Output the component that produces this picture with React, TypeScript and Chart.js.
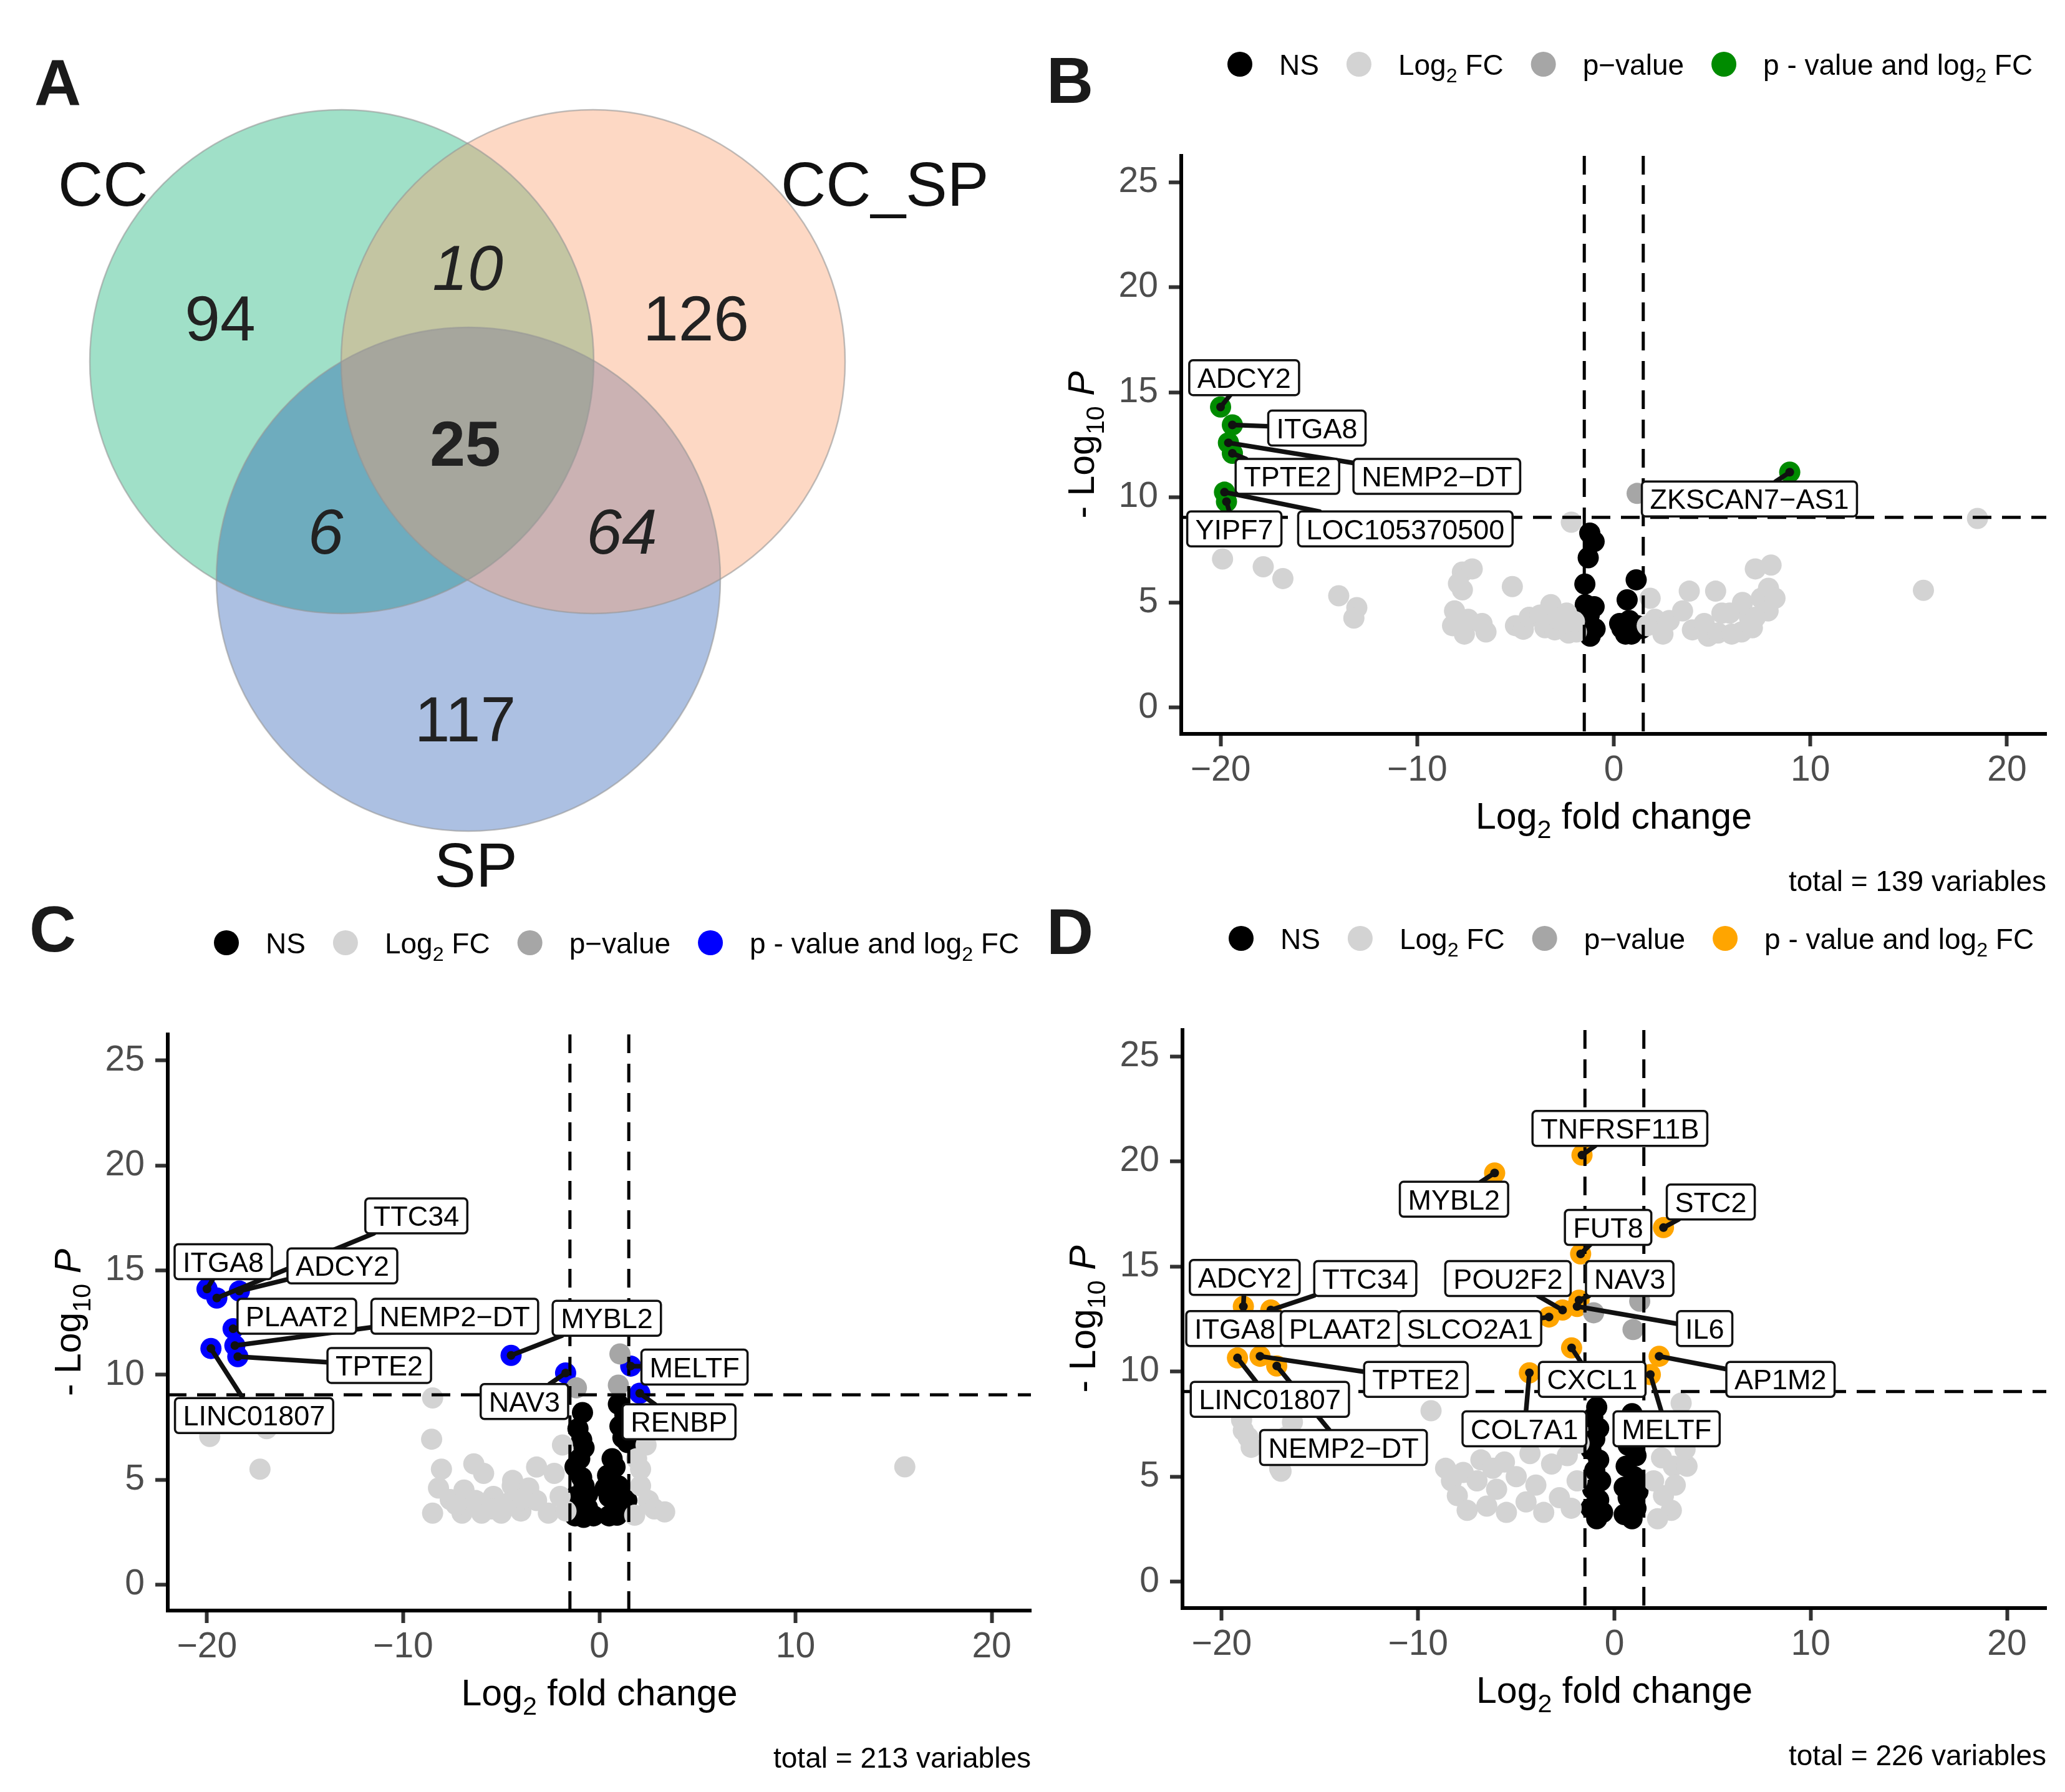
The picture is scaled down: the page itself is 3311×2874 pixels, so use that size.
import React, { useEffect, useRef } from "react";
import { Chart, registerables } from "chart.js";

Chart.register(...registerables);

const FAMILY = '"Liberation Sans", Arial, Helvetica, sans-serif';

type Pt = [number, number];
type Sig = { gene: string; x: number; y: number };
type Part = { t: string; sub?: boolean; italic?: boolean; bold?: boolean };

// ---------------- Panel A : Venn data ----------------
const VENN_SETS = ["CC", "CC_SP", "SP"];
// regions: CC only, CC&CC_SP, CC_SP only, CC&SP, all three, CC_SP&SP, SP only
const VENN_COUNTS = [94, 10, 126, 6, 25, 64, 117];

// ---------------- Volcano shared ----------------
const X_TICKS = [-20, -10, 0, 10, 20];
const Y_TICKS = [0, 5, 10, 15, 20, 25];
const FC_CUTOFF = 1.5;
const P_CUTOFF = 9.05;
const TOTALS = [139, 213, 226];

// ---------------- Panel B ----------------
const B_NS: Pt[] = [
  [-1.22, 8.3], [-1.0, 7.9], [-1.3, 7.13], [-1.47, 5.88], [-1.45, 4.9], [-1.0, 4.8],
  [-1.25, 4.4], [-1.47, 3.8], [-0.95, 3.75], [-1.2, 3.4],
  [1.14, 6.08], [0.68, 5.13], [0.79, 4.14], [0.41, 3.77], [1.42, 3.77], [0.9, 3.5],
  [0.3, 4.0], [1.2, 3.9], [0.6, 3.5],
];
const B_FC: Pt[] = [
  [-19.9, 7.07], [-17.83, 6.7], [-16.83, 6.14], [-13.99, 5.32], [-13.07, 4.76], [-13.22, 4.26],
  [-7.7, 6.45], [-7.2, 6.6], [-7.7, 5.6], [-7.9, 5.9], [-5.16, 5.76], [-8.1, 4.6], [-8.2, 3.9],
  [-7.6, 3.5], [-7.4, 4.2], [-6.7, 4.0], [-6.5, 3.6], [-5.0, 3.9], [-4.6, 3.73], [-4.3, 4.3],
  [-3.75, 4.4], [-3.2, 4.9], [-3.5, 3.8], [-3.0, 3.7], [-2.8, 4.2], [-2.4, 4.5], [-2.3, 3.55],
  [-1.9, 3.6], [-2.0, 4.1], [-2.16, 8.82],
  [1.85, 5.2], [2.1, 4.2], [1.7, 3.9], [2.82, 4.14], [2.5, 3.5], [3.84, 5.54], [3.5, 4.6],
  [4.0, 3.7], [4.6, 4.0], [4.8, 3.4], [5.18, 5.54], [5.3, 3.55], [5.5, 4.5], [5.9, 4.5],
  [6.0, 3.5], [6.5, 3.6], [6.55, 5.0], [6.9, 4.3], [7.2, 6.6], [8.0, 6.78], [7.5, 5.2],
  [7.87, 5.68], [7.85, 4.6], [7.2, 4.3], [7.05, 3.8], [8.2, 5.2], [15.75, 5.58], [18.5, 9.0],
];
const B_PV: Pt[] = [[1.19, 10.19]];
const B_SIG: Sig[] = [
  { gene: "ADCY2", x: -20.0, y: 14.3 },
  { gene: "ITGA8", x: -19.4, y: 13.45 },
  { gene: "NEMP2-DT", x: -19.6, y: 12.6 },
  { gene: "TPTE2", x: -19.4, y: 12.1 },
  { gene: "LOC105370500", x: -19.8, y: 10.25 },
  { gene: "YIPF7", x: -19.7, y: 9.8 },
  { gene: "ZKSCAN7-AS1", x: 8.95, y: 11.2 },
];
const B_LABEL_POS: Pt[] = [
  [-18.8, 15.7], [-15.1, 13.3], [-9.0, 11.0], [-16.6, 11.0], [-10.6, 8.5], [-19.3, 8.5], [6.9, 9.93],
];

// ---------------- Panel C ----------------
const C_NS: Pt[] = [
  [-0.86, 8.2], [-1.09, 7.43], [-0.9, 6.9], [-0.78, 6.52], [-1.0, 6.0], [-1.24, 5.61], [-0.9, 5.1],
  [-0.78, 4.7], [-1.24, 4.18], [-0.6, 4.3], [-0.61, 3.66], [-1.0, 3.8], [-1.24, 3.27], [-0.3, 3.27],
  [-0.8, 3.2],
  [0.97, 8.6], [1.3, 8.1], [1.05, 7.55], [1.2, 7.0], [1.44, 6.77], [0.65, 6.0], [0.8, 5.6],
  [0.42, 5.2], [0.97, 4.7], [0.3, 4.6], [0.5, 4.18], [1.13, 3.66], [1.4, 4.0], [0.5, 3.27], [0.9, 3.3],
];
const C_FC: Pt[] = [
  [-19.86, 7.06], [-16.96, 7.43], [-17.3, 5.5], [-8.5, 8.9], [-8.55, 6.93], [-8.05, 5.5],
  [-6.4, 5.75], [-5.9, 5.3], [-4.44, 4.7], [-4.42, 4.96], [-3.2, 5.6], [-8.5, 3.4], [-8.2, 4.6],
  [-7.6, 4.05], [-7.0, 3.4], [-6.9, 4.5], [-6.0, 3.4], [-5.4, 4.2], [-5.0, 3.4], [-4.6, 3.9],
  [-4.0, 3.5], [-3.6, 4.6], [-3.2, 4.0], [-2.6, 3.4], [-2.0, 4.2], [-2.3, 5.3], [-1.88, 6.65],
  [-1.7, 3.5], [-7.3, 3.8], [-6.3, 4.0], [-5.5, 3.6], [-3.9, 4.1],
  [2.38, 6.65], [2.1, 5.5], [2.1, 4.7], [2.5, 4.0], [1.8, 3.3], [2.8, 3.6], [3.33, 3.46],
  [1.9, 6.0], [15.57, 5.61],
];
const C_PV: Pt[] = [[1.05, 11.0], [0.97, 9.51], [-1.17, 9.38]];
const C_SIG: Sig[] = [
  { gene: "ITGA8", x: -20.0, y: 14.1 },
  { gene: "ADCY2", x: -18.35, y: 14.0 },
  { gene: "TTC34", x: -19.5, y: 13.67 },
  { gene: "PLAAT2", x: -18.67, y: 12.2 },
  { gene: "NEMP2-DT", x: -18.58, y: 11.4 },
  { gene: "TPTE2", x: -18.43, y: 10.87 },
  { gene: "LINC01807", x: -19.8, y: 11.26 },
  { gene: "MYBL2", x: -4.5, y: 10.93 },
  { gene: "NAV3", x: -1.72, y: 10.09 },
  { gene: "MELTF", x: 1.6, y: 10.42 },
  { gene: "RENBP", x: 2.06, y: 9.12 },
];
const C_LABEL_POS: Pt[] = [
  [-19.17, 15.4], [-13.1, 15.2], [-9.33, 17.59], [-15.42, 12.8], [-7.37, 12.8], [-11.22, 10.45],
  [-17.6, 8.06], [0.38, 12.7], [-3.82, 8.73], [4.85, 10.37], [4.06, 7.76],
];

// ---------------- Panel D ----------------
const D_NS: Pt[] = [
  [-0.9, 8.3], [-1.1, 7.8], [-0.8, 7.3], [-1.0, 6.8], [-1.2, 6.3], [-0.8, 5.8], [-1.0, 5.3],
  [-0.7, 4.8], [-1.1, 4.4], [-0.8, 3.9], [-1.2, 3.5], [-0.6, 3.3], [-0.9, 3.0],
  [0.9, 8.0], [0.6, 7.5], [1.0, 7.0], [0.7, 6.5], [1.1, 6.0], [0.6, 5.5], [1.0, 5.0], [0.5, 4.5],
  [1.2, 4.3], [0.7, 4.0], [1.1, 3.5], [0.5, 3.2], [0.9, 3.0],
];
const D_FC: Pt[] = [
  [-18.99, 7.7], [-18.66, 6.88], [-18.5, 6.4], [-18.9, 7.2], [-16.98, 5.26], [-16.4, 7.6],
  [-17.05, 5.39], [-17.5, 6.2], [-16.7, 6.9],
  [-9.34, 8.14], [-8.6, 5.4], [-8.3, 4.8], [-8.0, 4.1], [-7.7, 5.2], [-7.5, 3.4], [-7.0, 4.8],
  [-6.8, 5.8], [-6.5, 3.6], [-6.2, 5.4], [-6.0, 4.4], [-5.6, 5.7], [-5.5, 3.3], [-5.0, 5.0],
  [-4.5, 3.8], [-4.3, 6.1], [-4.0, 4.6], [-3.6, 3.3], [-3.6, 7.1], [-3.2, 5.6], [-2.8, 4.0],
  [-2.4, 6.0], [-2.2, 3.5], [-2.2, 7.5], [-1.9, 4.8], [-1.8, 6.6],
  [2.4, 5.9], [3.0, 5.5], [3.7, 5.5], [3.1, 4.6], [2.5, 4.1], [2.9, 3.4], [2.2, 3.0], [3.4, 8.5],
  [2.3, 7.0], [3.6, 6.3], [2.0, 4.8],
];
const D_PV: Pt[] = [[-1.06, 12.8], [1.29, 13.35], [0.95, 12.0]];
const D_SIG: Sig[] = [
  { gene: "TNFRSF11B", x: -1.65, y: 20.3 },
  { gene: "MYBL2", x: -6.1, y: 19.45 },
  { gene: "STC2", x: 2.5, y: 16.85 },
  { gene: "FUT8", x: -1.72, y: 15.6 },
  { gene: "ADCY2", x: -18.9, y: 13.1 },
  { gene: "TTC34", x: -17.5, y: 12.93 },
  { gene: "POU2F2", x: -2.64, y: 12.93 },
  { gene: "NAV3", x: -1.8, y: 13.4 },
  { gene: "ITGA8", x: -19.1, y: 12.2 },
  { gene: "PLAAT2", x: -17.8, y: 11.9 },
  { gene: "SLCO2A1", x: -3.33, y: 12.6 },
  { gene: "IL6", x: -1.9, y: 13.1 },
  { gene: "TPTE2", x: -18.05, y: 10.73 },
  { gene: "CXCL1", x: -2.18, y: 11.13 },
  { gene: "AP1M2", x: 2.28, y: 10.73 },
  { gene: "LINC01807", x: -19.2, y: 10.65 },
  { gene: "COL7A1", x: -4.33, y: 9.94 },
  { gene: "MELTF", x: 1.83, y: 9.86 },
  { gene: "NEMP2-DT", x: -17.2, y: 10.27 },
];
const D_LABEL_POS: Pt[] = [
  [0.28, 21.57], [-8.17, 18.2], [4.91, 18.07], [-0.32, 16.86], [-18.83, 14.48], [-12.69, 14.43],
  [-5.42, 14.43], [0.78, 14.43], [-19.33, 12.05], [-13.97, 12.05], [-7.36, 12.05], [4.6, 12.05],
  [-10.11, 9.63], [-1.13, 9.63], [8.46, 9.63], [-17.55, 8.68], [-4.58, 7.28], [2.66, 7.28],
  [-13.8, 6.39],
];

// ---------------- styles ----------------
const COL_NS = "#000000";
const COL_FC = "#D3D3D3";
const COL_PV = "#A6A6A6";

// ---------------- helpers ----------------
function fontFor(p: Part, size: number) {
  const s = p.sub ? size * 0.7 : size;
  return `${p.italic ? "italic " : ""}${p.bold ? "bold " : ""}${s}px ${FAMILY}`;
}
function richWidth(ctx: CanvasRenderingContext2D, parts: Part[], size: number) {
  let w = 0;
  for (const p of parts) {
    ctx.font = fontFor(p, size);
    w += ctx.measureText(p.t).width;
  }
  return w;
}
function drawRich(
  ctx: CanvasRenderingContext2D,
  parts: Part[],
  x: number,
  baseline: number,
  size: number,
  align: "left" | "center" | "right",
  color = "#000"
) {
  const w = richWidth(ctx, parts, size);
  let cx = align === "left" ? x : align === "center" ? x - w / 2 : x - w;
  ctx.textAlign = "left";
  ctx.textBaseline = "alphabetic";
  ctx.fillStyle = color;
  for (const p of parts) {
    ctx.font = fontFor(p, size);
    ctx.fillText(p.t, cx, p.sub ? baseline + size * 0.26 : baseline);
    cx += ctx.measureText(p.t).width;
  }
  return w;
}
function pts(a: Pt[]) {
  return a.map(([x, y]) => ({ x, y }));
}
function disp(s: string) {
  return s.replace(/-/g, "\u2212");
}

// ---------------- Panel A ----------------
const VENN_CIRCLES = [
  { cx: 548, cy: 580, r: 404 },
  { cx: 951, cy: 580, r: 404 },
  { cx: 751, cy: 929, r: 404 },
];
const VENN_FILLS = ["rgba(65,193,145,0.5)", "rgba(250,157,107,0.4)", "rgba(18,75,172,0.35)"];
const VENN_DRAW_ORDER = [0, 2, 1];
const VENN_COUNT_POS: Pt[] = [
  [353, 509], [750, 428], [1116, 509], [522, 851], [746, 710], [997, 851], [746, 1152],
];
const VENN_COUNT_STYLE = ["", "italic ", "", "italic ", "bold ", "italic ", ""];
const VENN_SET_POS: { x: number; y: number; align: CanvasTextAlign }[] = [
  { x: 93, y: 330, align: "left" },
  { x: 1252, y: 330, align: "left" },
  { x: 763, y: 1422, align: "center" },
];

function VennPanel() {
  const ref = useRef<HTMLCanvasElement>(null);
  useEffect(() => {
    const plugin = {
      id: "venn",
      beforeDatasetsDraw(chart: any) {
        const { ctx, scales } = chart;
        const xs = scales.x, ys = scales.y;
        ctx.save();
        for (const i of VENN_DRAW_ORDER) {
          const c = VENN_CIRCLES[i];
          const px = xs.getPixelForValue(c.cx), py = ys.getPixelForValue(c.cy);
          const r = xs.getPixelForValue(c.cx + c.r) - px;
          ctx.beginPath();
          ctx.arc(px, py, r, 0, Math.PI * 2);
          ctx.fillStyle = VENN_FILLS[i];
          ctx.fill();
        }
        for (const c of VENN_CIRCLES) {
          const px = xs.getPixelForValue(c.cx), py = ys.getPixelForValue(c.cy);
          const r = xs.getPixelForValue(c.cx + c.r) - px;
          ctx.beginPath();
          ctx.arc(px, py, r, 0, Math.PI * 2);
          ctx.strokeStyle = "rgba(150,150,150,0.6)";
          ctx.lineWidth = 2.5;
          ctx.stroke();
        }
        ctx.restore();
      },
      afterDatasetsDraw(chart: any) {
        const { ctx, scales } = chart;
        const xs = scales.x, ys = scales.y;
        ctx.save();
        ctx.fillStyle = "#222";
        ctx.textBaseline = "alphabetic";
        VENN_COUNTS.forEach((n, i) => {
          const [x, y] = VENN_COUNT_POS[i];
          ctx.font = `${VENN_COUNT_STYLE[i]}102px ${FAMILY}`;
          ctx.textAlign = "center";
          ctx.fillText(String(n), xs.getPixelForValue(x), ys.getPixelForValue(y) + 102 * 0.36);
        });
        ctx.fillStyle = "#111";
        VENN_SETS.forEach((s, i) => {
          const p = VENN_SET_POS[i];
          ctx.font = `100px ${FAMILY}`;
          ctx.textAlign = p.align;
          ctx.fillText(s, xs.getPixelForValue(p.x), ys.getPixelForValue(p.y));
        });
        ctx.font = `bold 104px ${FAMILY}`;
        ctx.textAlign = "left";
        ctx.fillStyle = "#1a1a1a";
        ctx.fillText("A", 55, 168);
        ctx.restore();
      },
    };
    const chart = new Chart(ref.current!, {
      type: "scatter",
      data: {
        datasets: [{ data: VENN_CIRCLES.map((c) => ({ x: c.cx, y: c.cy })), pointRadius: 0 }],
      },
      options: {
        animation: false,
        responsive: false,
        devicePixelRatio: 1,
        events: [],
        layout: { padding: 0 },
        plugins: { legend: { display: false }, tooltip: { enabled: false } },
        scales: {
          x: { type: "linear", min: 0, max: 1650, display: false },
          y: { type: "linear", min: 0, max: 1450, reverse: true, display: false },
        },
      },
      plugins: [plugin],
    } as any);
    return () => chart.destroy();
  }, []);
  return (
    <canvas
      ref={ref}
      width={1650}
      height={1450}
      style={{ position: "absolute", left: 0, top: 0, width: 1650, height: 1450 }}
    />
  );
}

// ---------------- Volcano panel ----------------
type VCfg = {
  letter: string;
  left: number;
  top: number;
  w: number;
  h: number;
  pad: { left: number; top: number; right: number; bottom: number };
  letterPos: Pt;
  ns: Pt[];
  fc: Pt[];
  pv: Pt[];
  sig: Sig[];
  labelPos: Pt[];
  color: string;
  total: number;
};

function VolcanoPanel({ cfg }: { cfg: VCfg }) {
  const ref = useRef<HTMLCanvasElement>(null);
  useEffect(() => {
    const LABEL_FONT = 45;
    const plugin = {
      id: "volcanoDecor",
      afterDatasetsDraw(chart: any) {
        const { ctx, chartArea: a, scales } = chart;
        const xs = scales.x, ys = scales.y;
        ctx.save();
        // cutoff lines
        ctx.strokeStyle = "#000";
        ctx.lineWidth = 5;
        ctx.setLineDash([30, 17]);
        for (const v of [-FC_CUTOFF, FC_CUTOFF]) {
          const px = xs.getPixelForValue(v);
          ctx.beginPath();
          ctx.moveTo(px, a.top);
          ctx.lineTo(px, a.bottom);
          ctx.stroke();
        }
        const hy = ys.getPixelForValue(P_CUTOFF);
        ctx.beginPath();
        ctx.moveTo(a.left, hy);
        ctx.lineTo(a.right, hy);
        ctx.stroke();
        ctx.setLineDash([]);

        // labels
        ctx.font = `${LABEL_FONT}px ${FAMILY}`;
        const boxes = cfg.sig.map((s, i) => {
          const [lx, ly] = cfg.labelPos[i];
          const text = disp(s.gene);
          return {
            text,
            cx: xs.getPixelForValue(lx),
            cy: ys.getPixelForValue(ly),
            w: ctx.measureText(text).width + 26,
            h: 56,
            qx: xs.getPixelForValue(s.x),
            qy: ys.getPixelForValue(s.y),
          };
        });
        ctx.strokeStyle = "#111";
        ctx.fillStyle = "#111";
        ctx.lineWidth = 7.5;
        ctx.lineCap = "round";
        for (const b of boxes) {
          const dx = b.qx - b.cx, dy = b.qy - b.cy;
          if (Math.abs(dx) <= b.w / 2 && Math.abs(dy) <= b.h / 2) continue;
          const sx = dx !== 0 ? b.w / 2 / Math.abs(dx) : Infinity;
          const sy = dy !== 0 ? b.h / 2 / Math.abs(dy) : Infinity;
          const s = Math.min(sx, sy);
          const ex = b.cx + dx * s, ey = b.cy + dy * s;
          ctx.beginPath();
          ctx.moveTo(b.qx, b.qy);
          ctx.lineTo(ex, ey);
          ctx.stroke();
          ctx.beginPath();
          ctx.arc(b.qx, b.qy, 7, 0, Math.PI * 2);
          ctx.fill();
        }
        for (const b of boxes) {
          ctx.beginPath();
          (ctx as any).roundRect(b.cx - b.w / 2, b.cy - b.h / 2, b.w, b.h, 6);
          ctx.fillStyle = "#fff";
          ctx.fill();
          ctx.lineWidth = 3.5;
          ctx.strokeStyle = "#111";
          ctx.stroke();
          ctx.fillStyle = "#000";
          ctx.font = `${LABEL_FONT}px ${FAMILY}`;
          ctx.textAlign = "center";
          ctx.textBaseline = "alphabetic";
          ctx.fillText(b.text, b.cx, b.cy + LABEL_FONT * 0.36);
        }
        ctx.restore();
      },
      afterDraw(chart: any) {
        const { ctx, chartArea: a } = chart;
        ctx.save();
        // legend
        const LS = 46;
        const items: { color: string; parts: Part[] }[] = [
          { color: COL_NS, parts: [{ t: "NS" }] },
          { color: COL_FC, parts: [{ t: "Log" }, { t: "2", sub: true }, { t: " FC" }] },
          { color: COL_PV, parts: [{ t: "p\u2212value" }] },
          { color: cfg.color, parts: [{ t: "p - value and log" }, { t: "2", sub: true }, { t: " FC" }] },
        ];
        let x = a.left + 94;
        const ly = a.top - 147;
        for (const it of items) {
          ctx.beginPath();
          ctx.arc(x, ly, 20, 0, Math.PI * 2);
          ctx.fillStyle = it.color;
          ctx.fill();
          const w = drawRich(ctx, it.parts, x + 63, ly + LS * 0.36, LS, "left");
          x = x + 63 + w + 64;
        }
        // axis titles
        const TS = 59;
        drawRich(
          ctx,
          [{ t: "Log" }, { t: "2", sub: true }, { t: " fold change" }],
          (a.left + a.right) / 2,
          a.bottom + 152,
          TS,
          "center"
        );
        ctx.save();
        ctx.translate(a.left - 161, (a.top + a.bottom) / 2);
        ctx.rotate(-Math.PI / 2);
        drawRich(
          ctx,
          [{ t: "- Log" }, { t: "10", sub: true }, { t: " " }, { t: "P", italic: true }],
          0,
          TS * 0.36,
          TS,
          "center"
        );
        ctx.restore();
        // total
        ctx.font = `46px ${FAMILY}`;
        ctx.fillStyle = "#000";
        ctx.textAlign = "right";
        ctx.textBaseline = "alphabetic";
        ctx.fillText(`total = ${cfg.total} variables`, a.right, a.bottom + 235 + 46 * 0.36);
        // panel letter
        ctx.font = `bold 104px ${FAMILY}`;
        ctx.textAlign = "left";
        ctx.fillStyle = "#1a1a1a";
        ctx.fillText(cfg.letter, cfg.letterPos[0], cfg.letterPos[1]);
        ctx.restore();
      },
    };

    const R = 17;
    const fmt = (v: number) => (v < 0 ? "\u2212" + Math.abs(v) : String(v));
    const axisCommon = {
      type: "linear",
      grid: {
        display: true,
        drawOnChartArea: false,
        drawTicks: true,
        tickLength: 20,
        tickWidth: 6,
        tickColor: "#333333",
      },
      border: { display: true, color: "#000000", width: 6 },
    };
    const chart = new Chart(ref.current!, {
      type: "scatter",
      data: {
        datasets: [
          { data: pts(cfg.fc), backgroundColor: COL_FC, pointRadius: R, borderWidth: 0 },
          { data: pts(cfg.pv), backgroundColor: COL_PV, pointRadius: R, borderWidth: 0 },
          { data: pts(cfg.ns), backgroundColor: COL_NS, pointRadius: R, borderWidth: 0 },
          {
            data: cfg.sig.map((s) => ({ x: s.x, y: s.y })),
            backgroundColor: cfg.color,
            pointRadius: R,
            borderWidth: 0,
          },
        ],
      },
      options: {
        animation: false,
        responsive: false,
        devicePixelRatio: 1,
        events: [],
        layout: { padding: cfg.pad },
        plugins: { legend: { display: false }, tooltip: { enabled: false } },
        scales: {
          x: {
            ...axisCommon,
            min: -22,
            max: 22,
            afterBuildTicks: (s: any) => {
              s.ticks = X_TICKS.map((v) => ({ value: v }));
            },
            afterFit: (s: any) => {
              s.height = 150;
            },
            ticks: {
              color: "#4D4D4D",
              font: { family: FAMILY, size: 57 },
              padding: 5,
              maxRotation: 0,
              autoSkip: false,
              callback: (v: any) => fmt(Number(v)),
            },
          },
          y: {
            ...axisCommon,
            min: -1.25,
            max: 26.25,
            afterBuildTicks: (s: any) => {
              s.ticks = Y_TICKS.map((v) => ({ value: v }));
            },
            afterFit: (s: any) => {
              s.width = 150;
            },
            ticks: {
              color: "#4D4D4D",
              font: { family: FAMILY, size: 57 },
              padding: 17,
              autoSkip: false,
              callback: (v: any) => fmt(Number(v)),
            },
          },
        },
      },
      plugins: [plugin],
    } as any);
    return () => chart.destroy();
  }, [cfg]);
  return (
    <canvas
      ref={ref}
      width={cfg.w}
      height={cfg.h}
      style={{ position: "absolute", left: cfg.left, top: cfg.top, width: cfg.w, height: cfg.h }}
    />
  );
}

const PANEL_B: VCfg = {
  letter: "B",
  left: 1650,
  top: 0,
  w: 1661,
  h: 1450,
  pad: { left: 94, top: 250, right: 30, bottom: 123 },
  letterPos: [28, 165],
  ns: B_NS,
  fc: B_FC,
  pv: B_PV,
  sig: B_SIG,
  labelPos: B_LABEL_POS,
  color: "#008B00",
  total: TOTALS[0],
};
const PANEL_C: VCfg = {
  letter: "C",
  left: 0,
  top: 1450,
  w: 1670,
  h: 1424,
  pad: { left: 119, top: 209, right: 13, bottom: 141 },
  letterPos: [47, 76],
  ns: C_NS,
  fc: C_FC,
  pv: C_PV,
  sig: C_SIG,
  labelPos: C_LABEL_POS,
  color: "#0000FF",
  total: TOTALS[1],
};
const PANEL_D: VCfg = {
  letter: "D",
  left: 1660,
  top: 1450,
  w: 1651,
  h: 1424,
  pad: { left: 86, top: 202, right: 30, bottom: 145 },
  letterPos: [18, 80],
  ns: D_NS,
  fc: D_FC,
  pv: D_PV,
  sig: D_SIG,
  labelPos: D_LABEL_POS,
  color: "#FFA500",
  total: TOTALS[2],
};

export default function App() {
  return (
    <div
      style={{
        position: "absolute",
        left: 0,
        top: 0,
        width: 3311,
        height: 2874,
        background: "#fff",
        overflow: "hidden",
      }}
    >
      <VennPanel />
      <VolcanoPanel cfg={PANEL_B} />
      <VolcanoPanel cfg={PANEL_C} />
      <VolcanoPanel cfg={PANEL_D} />
    </div>
  );
}
